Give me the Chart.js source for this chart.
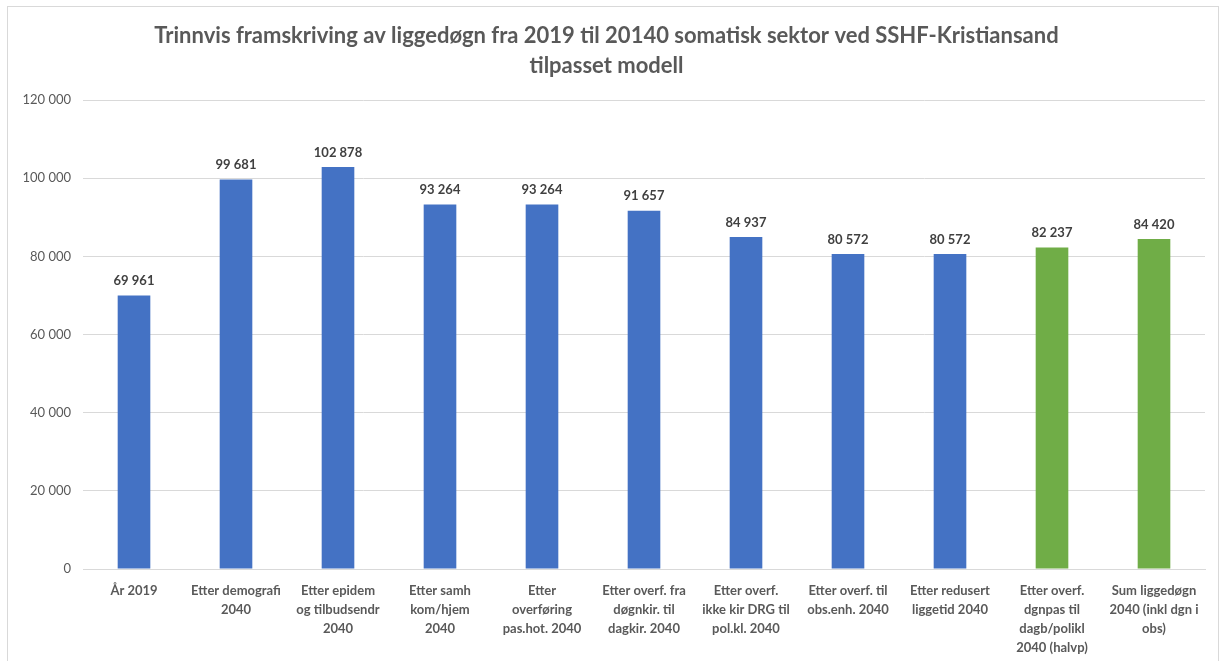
<!DOCTYPE html>
<html>
<head>
<meta charset="utf-8">
<script src="https://cdn.jsdelivr.net/npm/chart.js@4"></script>
<style>
  html, body { margin: 0; padding: 0; background: #fff; }
  #frame {
    position: absolute; left: 7px; top: 6px;
    width: 1210px; height: 654px;
    border: 1px solid #d9d9d9; border-bottom: none;
  }
</style>
</head>
<body>
<div id="frame"><canvas id="chartLiggedogn" width="1210" height="654"></canvas></div>
<script>
  var categories = [
    ["År 2019"],
    ["Etter demografi", "2040"],
    ["Etter epidem", "og tilbudsendr", "2040"],
    ["Etter samh", "kom/hjem", "2040"],
    ["Etter", "overføring", "pas.hot. 2040"],
    ["Etter overf. fra", "døgnkir. til", "dagkir. 2040"],
    ["Etter overf.", "ikke kir DRG til", "pol.kl. 2040"],
    ["Etter overf. til", "obs.enh. 2040"],
    ["Etter redusert", "liggetid 2040"],
    ["Etter overf.", "dgnpas til", "dagb/polikl", "2040 (halvp)"],
    ["Sum liggedøgn", "2040 (inkl dgn i", "obs)"]
  ];
  var liggedogn = [69961, 99681, 102878, 93264, 93264, 91657, 84937, 80572, 80572, 82237, 84420];
  var barColors = ["#4472c4", "#4472c4", "#4472c4", "#4472c4", "#4472c4", "#4472c4",
                   "#4472c4", "#4472c4", "#4472c4", "#70ad47", "#70ad47"];
  var yTicks = [0, 20000, 40000, 60000, 80000, 100000, 120000];

  var fontFamily = "Lato, 'Open Sans', sans-serif";

  function fmt(n) {
    return String(Math.round(n)).replace(/\B(?=(\d{3})+(?!\d))/g, " ");
  }

  // value labels above each bar
  var valueLabels = {
    id: "valueLabels",
    afterDatasetsDraw: function (chart) {
      var ctx = chart.ctx;
      var meta = chart.getDatasetMeta(0);
      ctx.save();
      ctx.font = "bold 13px " + fontFamily;
      ctx.fillStyle = "#404040";
      ctx.textAlign = "center";
      ctx.textBaseline = "bottom";
      meta.data.forEach(function (bar, i) {
        ctx.fillText(fmt(chart.data.datasets[0].data[i]), bar.x, bar.y - 8);
      });
      ctx.restore();
    }
  };

  var ctx = document.getElementById("chartLiggedogn").getContext("2d");
  new Chart(ctx, {
    type: "bar",
    data: {
      labels: categories,
      datasets: [{
        data: liggedogn,
        backgroundColor: barColors,
        categoryPercentage: 1,
        barPercentage: 0.32
      }]
    },
    options: {
      responsive: false,
      animation: false,
      layout: { padding: { left: 0, right: 13, top: 0, bottom: 0 } },
      plugins: {
        legend: { display: false },
        tooltip: { enabled: false },
        title: {
          display: true,
          text: ["Trinnvis framskriving av liggedøgn fra 2019 til 20140 somatisk sektor ved SSHF-Kristiansand",
                 "tilpasset modell"],
          color: "#595959",
          font: { family: fontFamily, size: 22, weight: "bold", lineHeight: 1.364 },
          padding: { top: 14, bottom: 19 }
        }
      },
      scales: {
        x: {
          grid: { display: false, drawTicks: false },
          border: { display: true, color: "#d9d9d9" },
          ticks: {
            color: "#595959",
            padding: 12,
            maxRotation: 0,
            autoSkip: false,
            font: { family: fontFamily, size: 13, weight: "bold", lineHeight: 1.46 }
          },
          afterFit: function (scale) { scale.height = 92; }
        },
        y: {
          min: 0,
          max: 120000,
          afterBuildTicks: function (scale) {
            scale.ticks = yTicks.map(function (v) { return { value: v }; });
          },
          grid: { color: "#d9d9d9", drawTicks: false },
          border: { display: false },
          ticks: {
            color: "#595959",
            padding: 12,
            font: { family: fontFamily, size: 13 },
            callback: function (v) { return fmt(v); }
          },
          afterFit: function (scale) { scale.width = 75; }
        }
      }
    },
    plugins: [valueLabels]
  });
</script>
</body>
</html>
